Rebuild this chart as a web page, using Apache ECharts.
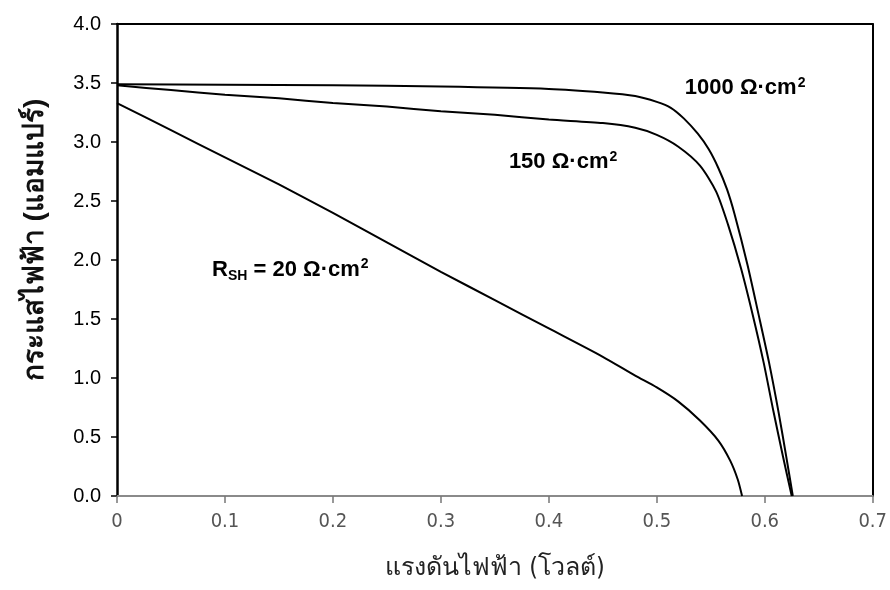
<!DOCTYPE html>
<html>
<head>
<meta charset="utf-8">
<script src="https://cdn.jsdelivr.net/npm/echarts@6/dist/echarts.min.js"></script>
<style>
html,body{margin:0;padding:0;background:#fff;}
#chart{width:890px;height:590px;}
</style>
</head>
<body>
<div id="chart"></div>
<script>
// Data (voltage V, current A)
const curveR1000 = [[0,3.49],[0.1,3.485],[0.2,3.48],[0.3,3.47],[0.4,3.45],[0.45,3.42],[0.48,3.39],[0.5,3.34],[0.513,3.29],[0.525,3.2],[0.538,3.07],[0.548,2.94],[0.557,2.78],[0.565,2.6],[0.572,2.39],[0.584,1.96],[0.594,1.55],[0.604,1.13],[0.613,0.7],[0.62,0.33],[0.626,0]];
const curveR150 = [[0,3.48],[0.05,3.44],[0.1,3.4],[0.15,3.37],[0.2,3.33],[0.25,3.3],[0.3,3.26],[0.35,3.23],[0.4,3.19],[0.45,3.16],[0.48,3.12],[0.5,3.06],[0.52,2.96],[0.54,2.8],[0.555,2.58],[0.566,2.3],[0.578,1.93],[0.589,1.53],[0.599,1.13],[0.608,0.72],[0.617,0.33],[0.625,0]];
const curveR20 = [[0,3.33],[0.05,3.1],[0.1,2.87],[0.15,2.64],[0.2,2.4],[0.25,2.15],[0.3,1.9],[0.35,1.66],[0.4,1.42],[0.45,1.18],[0.48,1.02],[0.5,0.92],[0.52,0.8],[0.54,0.64],[0.557,0.47],[0.568,0.3],[0.575,0.14],[0.579,0]];
const xTickLabels = ['0','0.1','0.2','0.3','0.4','0.5','0.6','0.7'];
const yTickLabels = ['0.0','0.5','1.0','1.5','2.0','2.5','3.0','3.5','4.0'];
const xTitle = 'แรงดันไฟฟ้า (โวลต์)';
const yTitle = 'กระแสไฟฟ้า (แอมแปร์)';
const labelTexts = ['{r|1000 Ω·cm}{p|2}', '{r|150 Ω·cm}{p|2}', '{r|R}{s|SH}{r| = 20 Ω·cm}{p|2}'];
const labelAnchors = [[0.526,3.46],[0.363,2.83],[0.088,1.92]];

const chart = echarts.init(document.getElementById('chart'));
const lineStyle = {color:'#000', width:2};
function mk(data){
  return {type:'line', data:data, showSymbol:false, symbol:'none', smooth:0.25, lineStyle:lineStyle, silent:true, animation:false};
}
chart.setOption({
  animation:false,
  backgroundColor:'#fff',
  grid:{left:117, right:17, top:24, bottom:94},
  xAxis:[{
    type:'value', min:0, max:0.7, interval:0.1,
    axisLine:{show:true, onZero:false, lineStyle:{color:'#8a8a8a', width:2}},
    axisTick:{show:true, length:7, lineStyle:{color:'#777', width:1.5}},
    splitLine:{show:false},
    axisLabel:{margin:16, color:'#555', fontSize:20, fontFamily:'"Liberation Sans Narrow","Arial Narrow","DejaVu Sans Condensed",sans-serif',
      formatter:function(v){return xTickLabels[Math.round(v*10)];}},
    name:xTitle, nameLocation:'middle', nameGap:60,
    nameTextStyle:{color:'#222', fontSize:25, fontFamily:'"Liberation Sans Narrow","DejaVu Sans Condensed",sans-serif'}
  },{
    type:'value', position:'top', min:0, max:0.7, interval:0.1,
    axisLine:{show:true, onZero:false, lineStyle:{color:'#000', width:2}},
    axisTick:{show:false}, axisLabel:{show:false}, splitLine:{show:false}
  }],
  yAxis:[{
    type:'value', min:0, max:4, interval:0.5,
    axisLine:{show:true, onZero:false, lineStyle:{color:'#000', width:2.5}},
    axisTick:{show:true, length:6, lineStyle:{color:'#000', width:1.5}},
    splitLine:{show:false},
    axisLabel:{margin:16, color:'#000', fontSize:20, fontFamily:'"Liberation Sans",Arial,sans-serif',
      formatter:function(v){return yTickLabels[Math.round(v*2)];}},
    name:yTitle, nameLocation:'middle', nameGap:68,
    nameTextStyle:{color:'#111', fontSize:28, fontWeight:'bold', fontFamily:'"Liberation Sans",Arial,sans-serif', padding:[0,0,0,40]}
  },{
    type:'value', position:'right', min:0, max:4, interval:0.5,
    axisLine:{show:true, onZero:false, lineStyle:{color:'#000', width:2}},
    axisTick:{show:false}, axisLabel:{show:false}, splitLine:{show:false}
  }],
  series:[mk(curveR1000), mk(curveR150), mk(curveR20)]
});

const font = 'bold 22px "Liberation Sans", Arial, sans-serif';
const small = 'bold 14px "Liberation Sans", Arial, sans-serif';
const gfx = labelAnchors.map(function(a, i){
  const p = chart.convertToPixel({gridIndex:0}, a);
  return {type:'text', z:100, style:{
    text:labelTexts[i], x:p[0], y:p[1], verticalAlign:'middle',
    rich:{
      r:{font:font, fill:'#000', lineHeight:30, verticalAlign:'middle'},
      s:{font:small, fill:'#000', lineHeight:30, verticalAlign:'bottom', padding:[0,0,1,0]},
      p:{font:small, fill:'#000', lineHeight:30, verticalAlign:'top', padding:[3,0,0,1]}
    }}};
});
chart.setOption({graphic:gfx});
</script>
</body>
</html>
